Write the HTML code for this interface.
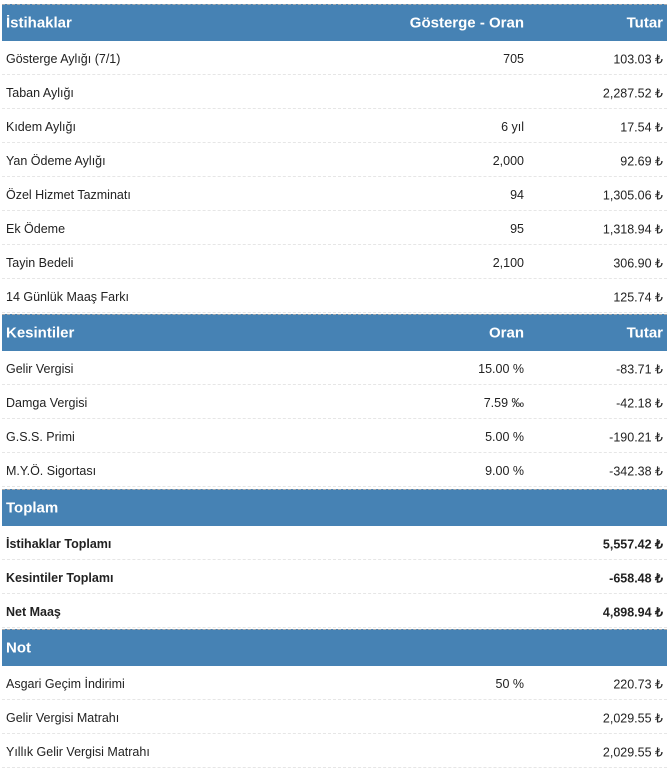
<!DOCTYPE html>
<html><head><meta charset="utf-8"><style>
body{margin:0;background:#fff;font-family:"Liberation Sans",sans-serif;color:#222;width:669px;height:766px;overflow:hidden}
.sec{position:absolute;left:2px;width:665px}
.h{height:36px;background:#4682b4;color:#fff;font-weight:bold;font-size:15px;position:relative;border-top:1px dashed #aaa}
.r{height:33px;position:relative;font-size:12.5px;border-bottom:1px dashed #e6e6e6}
.h span,.r span{position:absolute;top:50%;transform:translateY(-50%);white-space:nowrap}
.r span{margin-top:1px}
.a{left:4px}.b{right:143px}.c{right:4px}
.bold{font-weight:bold}
</style></head><body>
<div class="sec" style="top:4px">
<div class="h"><span class="a">İstihaklar</span><span class="b">Gösterge - Oran</span><span class="c">Tutar</span></div>
<div class="r"><span class="a">Gösterge Aylığı (7/1)</span><span class="b">705</span><span class="c">103.03 ₺</span></div>
<div class="r"><span class="a">Taban Aylığı</span><span class="c">2,287.52 ₺</span></div>
<div class="r"><span class="a">Kıdem Aylığı</span><span class="b">6 yıl</span><span class="c">17.54 ₺</span></div>
<div class="r"><span class="a">Yan Ödeme Aylığı</span><span class="b">2,000</span><span class="c">92.69 ₺</span></div>
<div class="r"><span class="a">Özel Hizmet Tazminatı</span><span class="b">94</span><span class="c">1,305.06 ₺</span></div>
<div class="r"><span class="a">Ek Ödeme</span><span class="b">95</span><span class="c">1,318.94 ₺</span></div>
<div class="r"><span class="a">Tayin Bedeli</span><span class="b">2,100</span><span class="c">306.90 ₺</span></div>
<div class="r"><span class="a">14 Günlük Maaş Farkı</span><span class="c">125.74 ₺</span></div>
</div>
<div class="sec" style="top:314px">
<div class="h"><span class="a">Kesintiler</span><span class="b">Oran</span><span class="c">Tutar</span></div>
<div class="r"><span class="a">Gelir Vergisi</span><span class="b">15.00 %</span><span class="c">-83.71 ₺</span></div>
<div class="r"><span class="a">Damga Vergisi</span><span class="b">7.59 ‰</span><span class="c">-42.18 ₺</span></div>
<div class="r"><span class="a">G.S.S. Primi</span><span class="b">5.00 %</span><span class="c">-190.21 ₺</span></div>
<div class="r"><span class="a">M.Y.Ö. Sigortası</span><span class="b">9.00 %</span><span class="c">-342.38 ₺</span></div>
</div>
<div class="sec" style="top:489px">
<div class="h"><span class="a">Toplam</span></div>
<div class="r bold"><span class="a">İstihaklar Toplamı</span><span class="c">5,557.42 ₺</span></div>
<div class="r bold"><span class="a">Kesintiler Toplamı</span><span class="c">-658.48 ₺</span></div>
<div class="r bold"><span class="a">Net Maaş</span><span class="c">4,898.94 ₺</span></div>
</div>
<div class="sec" style="top:629px">
<div class="h"><span class="a">Not</span></div>
<div class="r"><span class="a">Asgari Geçim İndirimi</span><span class="b">50 %</span><span class="c">220.73 ₺</span></div>
<div class="r"><span class="a">Gelir Vergisi Matrahı</span><span class="c">2,029.55 ₺</span></div>
<div class="r"><span class="a">Yıllık Gelir Vergisi Matrahı</span><span class="c">2,029.55 ₺</span></div>
</div>
</body></html>
